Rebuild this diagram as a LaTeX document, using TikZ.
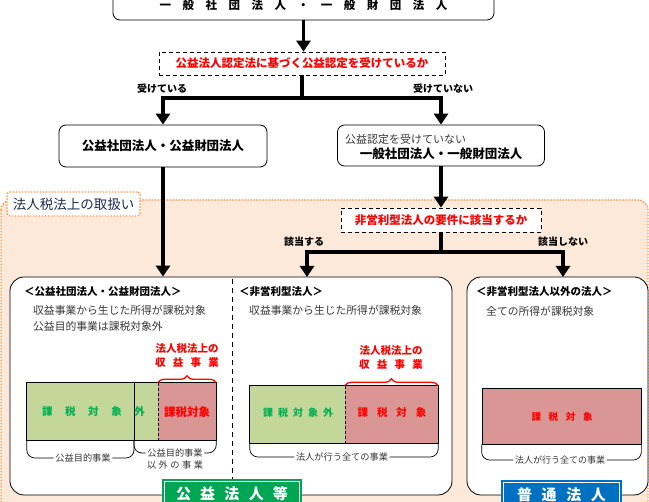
\documentclass[tikz,border=0pt]{standalone}
\usepackage{fontspec}
\setmainfont{Noto Sans CJK JP}
\usetikzlibrary{arrows.meta,decorations.pathreplacing,positioning}

\definecolor{kred}{HTML}{FF0000}
\definecolor{kgreen}{HTML}{00B050}
\definecolor{barg}{HTML}{C4D79B}
\definecolor{barr}{HTML}{D99694}
\definecolor{peach}{HTML}{FDE9D9}
\definecolor{orng}{HTML}{F79646}
\definecolor{labg}{HTML}{00A651}
\definecolor{labb}{HTML}{0070C0}
\definecolor{navy}{HTML}{1F2D4D}
\definecolor{txt}{HTML}{383838}

\newcommand{\fs}[1]{\fontsize{#1}{#1}\selectfont}

\begin{document}
\begin{tikzpicture}[x=1pt,y=-1pt,
    entity/.style={draw,rounded corners=7pt,line width=0.8pt,fill=white,inner sep=0pt},
    query/.style={draw,dash pattern=on 4pt off 3pt,line width=0.8pt,fill=white,inner sep=0pt,text=kred,font=\fs{11.5}\bfseries},
    flow/.style={line width=3.6pt,-{Triangle[width=14pt,length=11pt]}},
    branch/.style={line width=3.6pt},
    yesno/.style={font=\fs{10}\bfseries},
    head/.style={anchor=west,inner sep=0pt,font=\fs{10.5}\bfseries},
    body/.style={anchor=west,inner sep=0pt,text=txt,font=\fs{10.8}},
    taxlbl/.style={align=center,inner sep=0pt,text=kred,font=\fs{10.5}\bfseries,execute at begin node=\setlength{\baselineskip}{14pt}},
    gbar/.style={fill=barg,inner sep=0pt,minimum height=57pt},
    rbar/.style={fill=barr,inner sep=0pt,minimum height=57pt},
    brace/.style={kred,line width=1.3pt,decorate,decoration={brace,amplitude=7pt}},
    bracket/.style={line width=0.7pt,rounded corners=8pt},
    small/.style={inner sep=1.5pt,text=txt,font=\fs{9.2}},
    grplabel/.style={inner sep=0pt,text=white,font=\fs{15}\bfseries}]

  \useasboundingbox (0,0) rectangle (649,502);

  \draw[orng,line width=1.4pt,dash pattern=on 1.4pt off 1.6pt,fill=peach,rounded corners=10pt] (1,200) rectangle (648,560);
  \node[draw=orng,line width=1.4pt,dash pattern=on 1.4pt off 1.6pt,fill=white,rounded corners=3pt,
        minimum width=133pt,minimum height=24pt,inner sep=0pt,text=navy,font=\fs{13.5}] (zeihou) at (73.5,204) {法人税法上の取扱い};

  \node[entity,minimum width=381pt,minimum height=30pt,font=\fs{11.5}\bfseries] (ippanall) at (303.5,5)
    {\makebox[288pt][s]{一 般 社 団 法 人 ・ 一 般 財 団 法 人}};
  \node[query,minimum width=286pt,minimum height=23pt] (nintei) at (302,63.5) {公益法人認定法に基づく公益認定を受けているか};

  \node[entity,minimum width=208pt,minimum height=42pt,font=\fs{12.5}\bfseries] (kousha) at (163,146) {公益社団法人・公益財団法人};
  \node[entity,minimum width=207pt,minimum height=41pt] (ippan) at (441,145.5) {};
  \node[anchor=west,inner sep=0pt,text=txt,font=\fs{11}] (ippan1) at (345,139) {公益認定を受けていない};
  \node[inner sep=0pt,font=\fs{12.5}\bfseries] (ippan2) at (441,154) {一般社団法人・一般財団法人};

  \node[yesno] (uketeiru) at (162,89) {受けている};
  \node[yesno] (ukenai) at (443,89) {受けていない};

  \node[query,minimum width=200pt,minimum height=24pt] (hieiri) at (441,220) {非営利型法人の要件に該当するか};
  \node[yesno] (gaitou) at (304,242) {該当する};
  \node[yesno] (higaitou) at (563,242) {該当しない};

  \node[entity,rounded corners=14pt,minimum width=442pt,minimum height=218pt] (leftbox) at (231,386) {};
  \node[entity,rounded corners=14pt,minimum width=181pt,minimum height=218pt] (rightbox) at (557.5,386) {};
  \draw[dash pattern=on 5pt off 4pt,line width=0.9pt] (232,279) -- (232,480);

  \coordinate (fork1) at (302,98);
  \coordinate (fork2) at (441,252);
  \coordinate (sec2top) at (307,277);
  \coordinate (sec3top) at (563,277);

  \draw[flow] (ippanall.south) -- (ippanall.south |- nintei.north);
  \draw[branch] (nintei.south) -- (fork1);
  \draw[flow] (fork1) -| (kousha.north);
  \draw[flow] (fork1) -| (ippan.north);
  \draw[flow] (kousha.south) -- (kousha.south |- leftbox.north);
  \draw[flow] (ippan.south) -- (ippan.south |- hieiri.north);
  \draw[branch] (hieiri.south) -- (fork2);
  \draw[flow] (fork2) -| (sec2top);
  \draw[flow] (fork2) -| (sec3top);

  % 公益社団法人・公益財団法人
  \node[head] (head1) at (24,292) {＜公益社団法人・公益財団法人＞};
  \node[body] (body1a) at (33,310) {収益事業から生じた所得が課税対象};
  \node[body] (body1b) at (33,326) {公益目的事業は課税対象外};
  \node[taxlbl] (tax1) at (187,356) {法人税法上の\\\makebox[64pt][s]{収 益 事 業}};
  \node[gbar,minimum width=131pt] (lgai) at (92.5,411.5) {};
  \node[rbar,minimum width=58pt] (lkt) at (187,411.5) {};
  \draw[line width=0.7pt] (lgai.north west) rectangle (lkt.south east);
  \draw[line width=0.7pt] (134,383) -- (134,440);
  \draw[line width=0.7pt,dash pattern=on 3pt off 2pt] (lgai.north east) -- (lgai.south east);
  \draw[brace] (lkt.north west) -- (lkt.north east);
  \node[text=kgreen,font=\fs{10.5}\bfseries] (lgaitxt) at (93.5,412) {\makebox[103pt][s]{課 税 対 象 外}};
  \node[text=kred,font=\fs{11.5}\bfseries] (lkttxt) at (187,412) {課税対象};
  \node[small] (lbl1) at (83,458) {公益目的事業};
  \node[small] (lbl2a) at (175,453) {公益目的事業};
  \node[small] (lbl2b) at (175,465) {\makebox[56pt][s]{以 外 の 事 業}};
  \draw[bracket] (lgai.south west) |- (lbl1.west);
  \draw[bracket] (134,440) |- (lbl1.east);
  \draw[bracket] (134,440) |- (lbl2a.west);
  \draw[bracket] (lkt.south east) |- (lbl2a.east);

  % 非営利型法人
  \node[head] (head2) at (239,292) {＜非営利型法人＞};
  \node[body] (body2) at (249,310) {収益事業から生じた所得が課税対象};
  \node[taxlbl] (tax2) at (391,358) {法人税法上の\\\makebox[64pt][s]{収 益 事 業}};
  \node[gbar,minimum width=95pt] (mgai) at (297.5,414.5) {};
  \node[rbar,minimum width=93pt] (mkt) at (391.5,414.5) {};
  \draw[line width=0.7pt] (mgai.north west) rectangle (mkt.south east);
  \draw[line width=0.7pt,dash pattern=on 3pt off 2pt] (mgai.north east) -- (mgai.south east);
  \draw[brace] (mkt.north west) -- (mkt.north east);
  \node[text=kgreen,font=\fs{10}\bfseries] (mgaitxt) at (298,413) {\makebox[70pt][s]{課 税 対 象 外}};
  \node[text=kred,font=\fs{10.5}\bfseries] (mkttxt) at (392,413) {\makebox[69pt][s]{課 税 対 象}};
  \node[small] (lbl3) at (342,457) {法人が行う全ての事業};
  \draw[bracket] (mgai.south west) |- (lbl3.west);
  \draw[bracket] (mkt.south east) |- (lbl3.east);

  % 非営利型法人以外の法人
  \node[head] (head3) at (476,292) {＜非営利型法人以外の法人＞};
  \node[body] (body3) at (486,311) {全ての所得が課税対象};
  \node[rbar,minimum width=159pt,minimum height=56pt,draw,line width=0.7pt] (rkt) at (561.5,416) {};
  \node[text=kred,font=\fs{9.5}\bfseries] (rkttxt) at (562,417) {\makebox[61pt][s]{課 税 対 象}};
  \node[small,font=\fs{9}] (lbl4) at (560,460) {法人が行う全ての事業};
  \draw[bracket] (rkt.south west) |- (lbl4.west);
  \draw[bracket] (rkt.south east) |- (lbl4.east);

  \node[grplabel,fill=labg,minimum width=140pt,minimum height=30pt] (koueki) at (232,494)
    {\makebox[112pt][s]{公 益 法 人 等}};
  \draw[white,line width=0.9pt] ([shift={(3pt,-3pt)}]koueki.north west) rectangle ([shift={(-3pt,3pt)}]koueki.south east);
  \node[grplabel,fill=labb,minimum width=121pt,minimum height=30pt] (futsuu) at (561.5,495)
    {\makebox[89pt][s]{普 通 法 人}};
  \draw[white,line width=0.9pt] ([shift={(3pt,-3pt)}]futsuu.north west) rectangle ([shift={(-3pt,3pt)}]futsuu.south east);
\end{tikzpicture}
\end{document}
